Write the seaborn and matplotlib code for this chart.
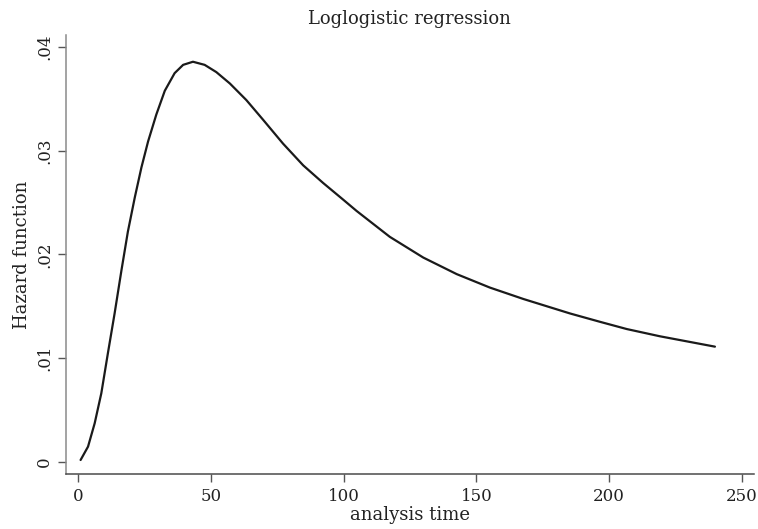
import numpy as np
import pandas as pd
import matplotlib
matplotlib.use("Agg")
import matplotlib.pyplot as plt
import seaborn as sns

# Data
analysis_time = [1.0, 3.8, 6.3, 8.8, 11.3, 13.8, 16.4, 18.8, 21.4, 23.9, 26.4,
                 29.5, 32.7, 36.4, 39.6, 43.3, 47.7, 52.1, 57.2, 63.4, 69.7,
                 77.2, 84.8, 92.3, 99.8, 104.9, 117.4, 130.0, 142.6, 155.1,
                 167.7, 185.3, 196.5, 206.6, 219.1, 239.8]
hazard = [0.00016, 0.00145, 0.0037, 0.0066, 0.0105, 0.0143, 0.0185, 0.0222,
          0.0255, 0.0284, 0.0309, 0.0335, 0.0358, 0.0375, 0.0383, 0.0386,
          0.0383, 0.0376, 0.0365, 0.0349, 0.0330, 0.0307, 0.0286, 0.0269,
          0.0253, 0.0242, 0.0217, 0.0197, 0.0181, 0.0168, 0.0157, 0.0143,
          0.0135, 0.0128, 0.0121, 0.0111]
x_ticks = [0, 50, 100, 150, 200, 250]
y_ticks = [0, 0.01, 0.02, 0.03, 0.04]
y_tick_labels = ["0", ".01", ".02", ".03", ".04"]

df = pd.DataFrame({"analysis time": analysis_time, "Hazard function": hazard})

sns.set_style("ticks")
plt.rcParams["font.family"] = ["DejaVu Serif"]

fig = plt.figure(figsize=(7.58, 5.29), dpi=100)
ax = fig.add_axes([0.0867, 0.104, 0.908, 0.830])

sns.lineplot(data=df, x="analysis time", y="Hazard function", ax=ax,
             color="#1a1a1a", linewidth=1.6, sort=False)

ax.set_xlim(-4.6, 254.5)
ax.set_ylim(-0.00119, 0.04119)
ax.set_xticks(x_ticks)
ax.set_xticklabels([str(v) for v in x_ticks])
ax.set_yticks(y_ticks)
ax.set_yticklabels(y_tick_labels, rotation=90, va="center")

for s in ["top", "right"]:
    ax.spines[s].set_visible(False)
ax.spines["left"].set_color("#8a8a8a")
ax.spines["bottom"].set_color("#4a4a4a")
ax.spines["left"].set_linewidth(1.1)
ax.spines["bottom"].set_linewidth(1.1)
ax.tick_params(axis="both", length=6, width=1.0, color="#555555",
               labelsize=12, labelcolor="#222222")
ax.tick_params(axis="x", pad=4)
ax.tick_params(axis="y", pad=3)

ax.set_title("Loglogistic regression", fontsize=13, color="#222222", pad=8)
ax.set_xlabel("analysis time", fontsize=13, color="#222222", labelpad=1)
ax.set_ylabel("Hazard function", fontsize=13, color="#222222", labelpad=4)

fig.savefig("out.png", dpi=100, facecolor="white")
